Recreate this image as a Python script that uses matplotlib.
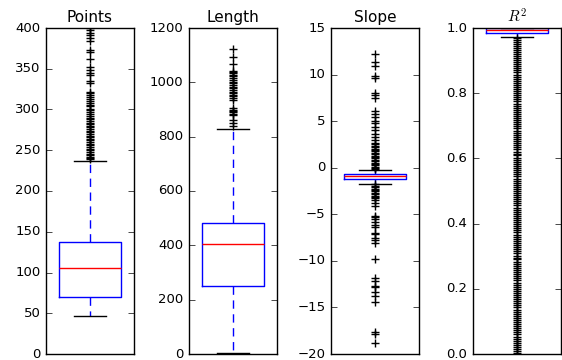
import matplotlib
matplotlib.use("Agg")
import matplotlib.pyplot as plt

titles = ["Points", "Length", "Slope", "$R^2$"]

# box statistics: whisker low, q1, median, q3, whisker high
points_stats = [47, 70, 105, 137, 237]
length_stats = [2, 251, 405, 484, 829]
slope_stats = [-1.7, -1.2, -0.85, -0.72, -0.2]
r2_stats = [0.973, 0.986, 0.993, 0.999, 1.0]

points_fliers = [400, 397, 394, 391, 388, 384, 373, 371, 362, 352, 349, 345, 342,
                 335, 332, 322, 320, 318, 315, 313, 311, 308, 306, 304, 301, 299,
                 297, 295, 292, 290, 288, 286, 284, 282, 280, 278, 276, 274, 272,
                 270, 268, 266, 264, 262, 260, 258, 256, 254, 252, 250, 248, 246,
                 244, 242, 240, 239]
length_fliers = [1122, 1095, 1066, 1043, 1038, 1033, 1028, 1022, 1015, 1008, 1002,
                 996, 990, 984, 978, 972, 966, 960, 954, 948, 942, 936, 904, 899,
                 894, 889, 884, 880, 861, 849, 839]
slope_fliers = [12.2, 11.3, 10.9, 9.8, 9.6, 8.06, 7.8, 7.45, 6.1, 5.77, 5.4, 5.05,
                4.77, 4.4, 4.05, 3.6, 3.3, 3.0, 2.65, 2.5, 2.35, 2.2, 2.05, 1.9,
                1.75, 1.6, 1.45, 1.3, 1.15, 1.0, 0.85, 0.7, 0.55, 0.4, 0.25, 0.1,
                -0.05, -0.15, -1.8, -1.95, -2.1, -2.25, -2.4, -2.55, -2.7, -2.85,
                -3.0, -3.15, -3.3, -3.5, -3.76, -4.1, -5.2, -5.3, -5.5, -5.8, -6.15,
                -6.4, -7.0, -7.1, -7.5, -7.8, -8.05, -9.85, -11.8, -12.2, -12.7,
                -12.8, -13.3, -13.8, -14.4, -17.6, -17.8, -18.8]
r2_fliers = [0.970, 0.964, 0.958, 0.951, 0.946, 0.940, 0.933, 0.927, 0.921, 0.914,
             0.908, 0.902, 0.895, 0.889, 0.883, 0.876, 0.870, 0.864, 0.857, 0.851,
             0.845, 0.838, 0.832, 0.826, 0.819, 0.813, 0.806, 0.800, 0.794, 0.787,
             0.781, 0.775, 0.768, 0.762, 0.755, 0.749, 0.743, 0.736, 0.730, 0.724,
             0.717, 0.711, 0.704, 0.698, 0.692, 0.685, 0.679, 0.672, 0.666, 0.660,
             0.653, 0.647, 0.641, 0.634, 0.628, 0.621, 0.615, 0.609, 0.602, 0.596,
             0.590, 0.583, 0.577, 0.570, 0.564, 0.558, 0.551, 0.545, 0.538, 0.532,
             0.526, 0.519, 0.513, 0.507, 0.500, 0.494, 0.487, 0.481, 0.475, 0.468,
             0.462, 0.456, 0.449, 0.443, 0.436, 0.430, 0.424, 0.417, 0.411, 0.405,
             0.398, 0.392, 0.385, 0.379, 0.373, 0.366, 0.360, 0.353, 0.347, 0.341,
             0.334, 0.328, 0.322, 0.315, 0.309, 0.302, 0.296, 0.290, 0.283, 0.277,
             0.270, 0.264, 0.258, 0.251, 0.245, 0.239, 0.232, 0.226, 0.219, 0.213,
             0.207, 0.200, 0.194, 0.188, 0.181, 0.175, 0.168, 0.162, 0.156, 0.149,
             0.143, 0.136, 0.130, 0.124, 0.117, 0.111, 0.105, 0.098, 0.092, 0.085,
             0.079, 0.073, 0.066, 0.060, 0.053, 0.047, 0.041, 0.034, 0.028, 0.022,
             0.015, 0.009, 0.003]

ylims = [(0, 400), (0, 1200), (-20, 15), (0, 1.0)]
yticks = [list(range(0, 401, 50)), list(range(0, 1201, 200)),
          list(range(-20, 16, 5)), [0.0, 0.2, 0.4, 0.6, 0.8, 1.0]]

plt.style.use("classic")
plt.rcParams["figure.facecolor"] = "white"
plt.rcParams["savefig.facecolor"] = "white"

fig = plt.figure(figsize=(5.62, 3.6), dpi=100)
lefts = [46, 189, 331, 473]
W, H = 562.0, 360.0

all_stats = [points_stats, length_stats, slope_stats, r2_stats]
all_fliers = [points_fliers, length_fliers, slope_fliers, r2_fliers]

for i in range(4):
    ax = fig.add_axes([lefts[i] / W, 6 / H, 88 / W, 326 / H])
    s = all_stats[i]
    st = dict(whislo=s[0], q1=s[1], med=s[2], q3=s[3], whishi=s[4],
              fliers=all_fliers[i])
    res = ax.bxp([st], positions=[1], widths=0.5,
                 boxprops=dict(color="blue", linewidth=1.0),
                 medianprops=dict(color="red", linewidth=1.0),
                 whiskerprops=dict(color="blue", linewidth=1.0),
                 capprops=dict(color="black", linewidth=1.0),
                 flierprops=dict(marker="+", markeredgecolor="black", markersize=6,
                                 linestyle="none", markeredgewidth=1.0))
    for w in res["whiskers"]:
        w.set_dashes((6, 4))
    ax.set_xlim(0.65, 1.35)
    ax.set_ylim(*ylims[i])
    ax.set_yticks(yticks[i])
    ax.set_xticks([])
    ax.tick_params(axis="y", labelsize=9.5, direction="in", length=4,
                   left=True, right=True)
    ax.set_title(titles[i], fontsize=11, pad=4)

fig.savefig("out.png", dpi=100)
